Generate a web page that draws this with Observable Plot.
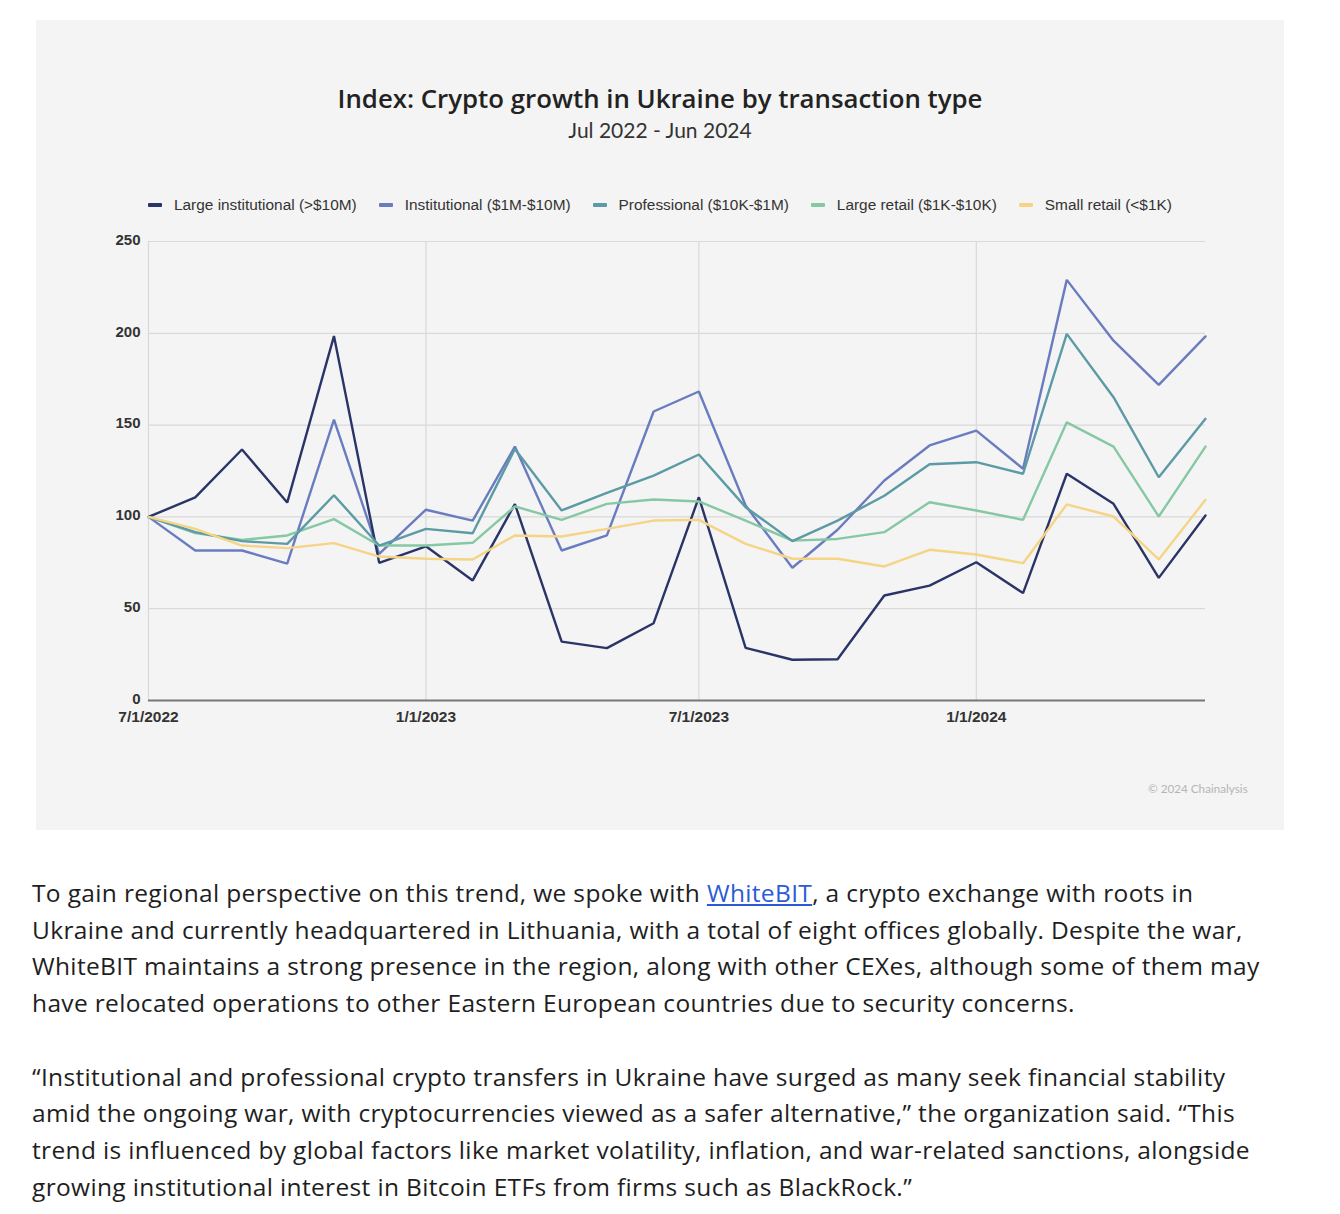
<!DOCTYPE html>
<html>
<head>
<meta charset="utf-8">
<script src="https://cdn.jsdelivr.net/npm/d3@7"></script>
<script src="https://cdn.jsdelivr.net/npm/@observablehq/plot@0.6"></script>
<style>
  html, body { margin: 0; padding: 0; background: #ffffff; }
  body { width: 1340px; height: 1214px; position: relative; overflow: hidden; }
  #card { position: absolute; left: 36px; top: 20px; width: 1248px; height: 810px; background: #f4f4f4; }
  #title { position: absolute; left: 0; width: 1248px; top: 60px; text-align: center;
    font-family: "Open Sans", Lato, sans-serif; font-weight: 600; font-size: 25.8px; color: #222; }
  #subtitle { position: absolute; left: 0; width: 1248px; top: 97px; text-align: center;
    font-family: Lato, "Open Sans", sans-serif; font-size: 21px; color: #333; }
  #legend { position: absolute; left: 112px; top: 176px; display: flex; gap: 22px;
    font-family: "Liberation Sans", Arial, sans-serif; font-size: 15.4px; color: #333; white-space: nowrap; }
  .item { display: flex; align-items: center; }
  .sw { display: inline-block; width: 14px; height: 4px; margin-right: 12px; border-radius: 1px; }
  #chart { position: absolute; left: 0; top: 185px; }
  #credit { position: absolute; left: 1112px; top: 761px; font-family: Lato, sans-serif; font-size: 11.7px; color: #b5b5b5; }
  #text { position: absolute; left: 32px; top: 875px; font-family: "Open Sans", Lato, sans-serif;
    font-size: 24.5px; letter-spacing: 0.35px; line-height: 36.7px; color: #1e1e1e; }
  #text p { margin: 0 0 36.7px 0; }
  #text span.l { display: block; white-space: nowrap; }
  #text a { color: #2b5bd6; text-decoration: underline; }
</style>
</head>
<body>
<div id="card">
  <div id="title">Index: Crypto growth in Ukraine by transaction type</div>
  <div id="subtitle">Jul 2022 - Jun 2024</div>
  <div id="legend"></div>
  <div id="chart"></div>
  <div id="credit">© 2024 Chainalysis</div>
</div>
<div id="text">
  <p>
    <span class="l">To gain regional perspective on this trend, we spoke with <a href="#">WhiteBIT</a>, a crypto exchange with roots in</span>
    <span class="l">Ukraine and currently headquartered in Lithuania, with a total of eight offices globally. Despite the war,</span>
    <span class="l">WhiteBIT maintains a strong presence in the region, along with other CEXes, although some of them may</span>
    <span class="l">have relocated operations to other Eastern European countries due to security concerns.</span>
  </p>
  <p>
    <span class="l">“Institutional and professional crypto transfers in Ukraine have surged as many seek financial stability</span>
    <span class="l">amid the ongoing war, with cryptocurrencies viewed as a safer alternative,” the organization said. “This</span>
    <span class="l">trend is influenced by global factors like market volatility, inflation, and war-related sanctions, alongside</span>
    <span class="l">growing institutional interest in Bitcoin ETFs from firms such as BlackRock.”</span>
  </p>
</div>
<script>
// ---- Data ----
const months = ["2022-07","2022-08","2022-09","2022-10","2022-11","2022-12",
  "2023-01","2023-02","2023-03","2023-04","2023-05","2023-06",
  "2023-07","2023-08","2023-09","2023-10","2023-11","2023-12",
  "2024-01","2024-02","2024-03","2024-04","2024-05","2024-06"];

const seriesNames = ["Large institutional (>$10M)", "Institutional ($1M-$10M)",
  "Professional ($10K-$1M)", "Large retail ($1K-$10K)", "Small retail (<$1K)"];

const largeInstitutional = [100,110.6,136.7,107.8,198.5,75,84,65.4,107,32.1,28.5,42.1,110.7,28.7,22.2,22.5,57.2,62.6,75.3,58.5,123.5,107.1,66.8,100.8];
const institutional      = [100,81.7,81.7,74.6,153,79.9,103.9,98,138.3,81.7,89.9,157.4,168.3,106.2,72.3,93,119.8,138.9,147,126.2,229.1,196,171.9,198.3];
const professional       = [100,91.7,86.8,85.3,111.8,84.4,93.5,91.1,137,103.5,113.1,122.5,134,105.3,86.8,98,111.5,128.7,129.8,123.5,199.7,165.2,121.6,153.4];
const largeRetail        = [100,91.2,87.5,89.9,98.8,84.4,84.4,85.9,105.7,98.4,107.1,109.5,108.4,98,87.1,88,91.7,108,103.5,98.4,151.5,138.3,100.2,138.3];
const smallRetail        = [100,93.5,84.4,83,85.7,78.4,77.2,76.8,89.9,89.3,93.5,98,98.4,85.3,77.2,77.2,73,82.1,79.5,74.8,106.8,100.2,76.8,109.3];

const yTicks = [0, 50, 100, 150, 200, 250];
const xTickDates = ["2022-07-01", "2023-01-01", "2023-07-01", "2024-01-01"];

const colors = ["#2b3467", "#6a7cc0", "#5c9aa5", "#86c8a4", "#f6d486"];

// ---- Build table ----
const allSeries = [largeInstitutional, institutional, professional, largeRetail, smallRetail];
const rows = [];
allSeries.forEach((vals, si) => {
  vals.forEach((v, i) => rows.push({ date: new Date(months[i] + "-01T00:00:00Z"), value: v, series: seriesNames[si] }));
});
const xTicks = xTickDates.map(d => new Date(d + "T00:00:00Z"));
const fmt = d => `${d.getUTCMonth() + 1}/${d.getUTCDate()}/${d.getUTCFullYear()}`;

// ---- Legend ----
const legend = document.getElementById("legend");
seriesNames.forEach((n, i) => {
  const it = document.createElement("div");
  it.className = "item";
  it.innerHTML = `<span class="sw" style="background:${colors[i]}"></span><span></span>`;
  it.lastChild.textContent = n;
  legend.appendChild(it);
});

// ---- Chart ----
const chart = Plot.plot({
  width: 1248,
  height: 540,
  marginLeft: 112,
  marginRight: 79,
  marginTop: 36,
  marginBottom: 45,
  style: { background: "transparent", fontFamily: "'Liberation Sans', Arial, sans-serif", fontSize: "15px", overflow: "visible" },
  x: { type: "utc", domain: [new Date("2022-07-01T00:00:00Z"), new Date("2024-06-01T00:00:00Z")] },
  y: { domain: [0, 250] },
  color: { domain: seriesNames, range: colors },
  marks: [
    Plot.ruleY(yTicks.filter(d => d > 0), { stroke: "#d9d9d9", strokeWidth: 1.2 }),
    Plot.ruleX(xTicks, { stroke: "#d9d9d9", strokeWidth: 1.2 }),
    Plot.axisY(yTicks, { tickSize: 0, tickPadding: 8, dy: -1.5, fontWeight: "bold", fill: "#333", label: null }),
    Plot.axisX(xTicks, { tickSize: 0, tickPadding: 10, tickFormat: fmt, fontWeight: "bold", fill: "#333", label: null, fontSize: 15.5 }),
    Plot.lineY(rows, { x: "date", y: "value", z: "series", stroke: "series", strokeWidth: 2.4,
      sort: { channel: "z" }, strokeLinejoin: "miter" }),
    Plot.ruleY([0], { stroke: "#777", strokeWidth: 2 })
  ]
});
document.getElementById("chart").appendChild(chart);
</script>
</body>
</html>
